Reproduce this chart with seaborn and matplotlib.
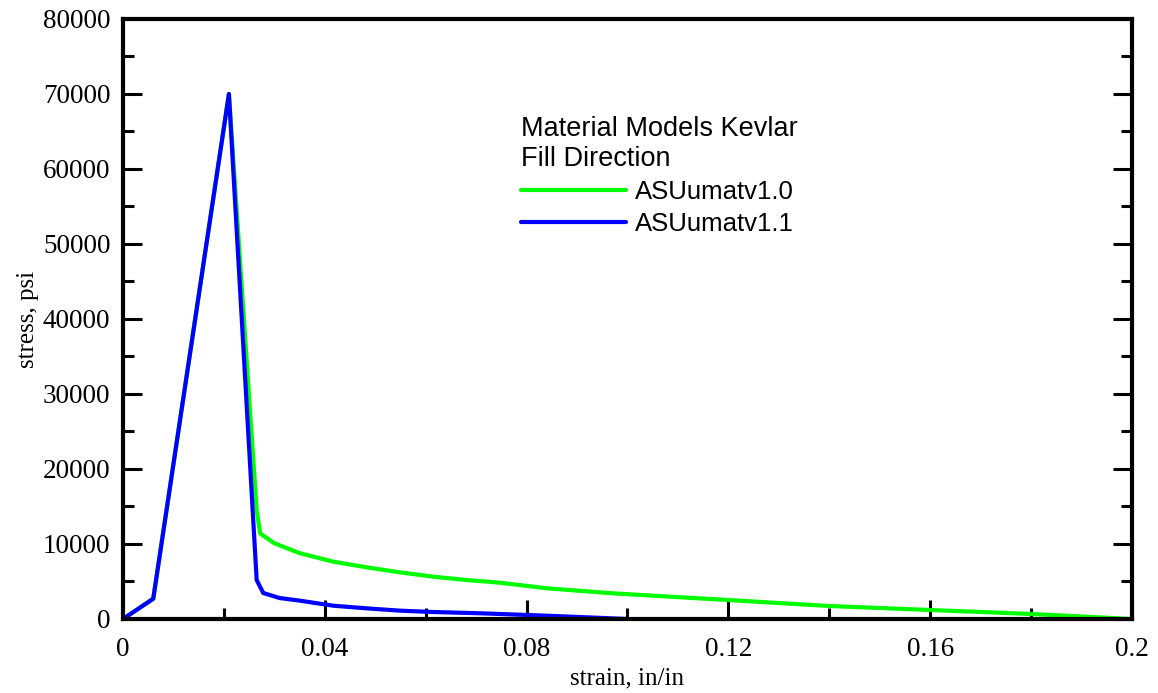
import pandas as pd
import seaborn as sns
import matplotlib.pyplot as plt
from matplotlib.ticker import MultipleLocator, FuncFormatter

sns.set_theme(style='white')
plt.rcParams['font.family'] = ['Liberation Serif', 'DejaVu Serif']

# stress-strain data
strain_v10 = [0, 0.006, 0.021, 0.0265, 0.0272, 0.030, 0.0351, 0.0417, 0.0483, 0.0549,
              0.0615, 0.0681, 0.0747, 0.084, 0.0972, 0.1104, 0.12, 0.14, 0.16, 0.18, 0.2]
stress_v10 = [0, 2700, 70000, 14500, 11400, 10100, 8760, 7640, 6890, 6220,
              5640, 5200, 4840, 4090, 3420, 2900, 2530, 1730, 1200, 670, 0]
strain_v11 = [0, 0.006, 0.021, 0.0265, 0.0278, 0.031, 0.0351, 0.0417, 0.0483, 0.0549,
              0.0615, 0.0708, 0.084, 0.100]
stress_v11 = [0, 2700, 70000, 5200, 3470, 2800, 2440, 1770, 1420, 1110,
              930, 760, 440, 0]

models = ['ASUumatv1.0', 'ASUumatv1.1']
colors = {'ASUumatv1.0': '#00ff00', 'ASUumatv1.1': '#0000ff'}

df = pd.concat([
    pd.DataFrame({'strain': strain_v10, 'stress': stress_v10, 'model': models[0]}),
    pd.DataFrame({'strain': strain_v11, 'stress': stress_v11, 'model': models[1]}),
], ignore_index=True)

fig = plt.figure(figsize=(11.58, 6.93), dpi=100)
ax = fig.add_axes([0.1062, 0.1068, 0.8713, 0.8658])
sns.lineplot(data=df, x='strain', y='stress', hue='model', hue_order=models,
             palette=colors, sort=False, estimator=None, linewidth=3, ax=ax)

ax.set_xlim(0, 0.2)
ax.set_ylim(0, 80000)
ax.xaxis.set_major_locator(MultipleLocator(0.04))
ax.xaxis.set_minor_locator(MultipleLocator(0.02))
ax.yaxis.set_major_locator(MultipleLocator(10000))
ax.yaxis.set_minor_locator(MultipleLocator(5000))
ax.xaxis.set_major_formatter(FuncFormatter(lambda v, p: '%g' % round(v, 4)))
ax.yaxis.set_major_formatter(FuncFormatter(lambda v, p: '%d' % v))
ax.tick_params(which='both', direction='in', left=True, right=True, bottom=True,
               top=False, labelsize=19.5, width=2.2, color='black', labelcolor='black')
ax.tick_params(axis='x', which='major', length=14, pad=13)
ax.tick_params(axis='y', which='major', length=14, pad=9)
ax.tick_params(which='minor', length=8)
for sp in ax.spines.values():
    sp.set_visible(True)
    sp.set_color('black')
    sp.set_linewidth(3)

ax.set_xlabel('strain, in/in', fontsize=18, color='black', labelpad=4)
ax.set_ylabel('stress, psi', fontsize=18, color='black', labelpad=3)

handles, labels = ax.get_legend_handles_labels()
leg = ax.legend(handles, labels, title='Material Models Kevlar\nFill Direction',
                loc='upper left', bbox_to_anchor=(0.384, 0.855), frameon=False,
                alignment='left', handlelength=4.1, handletextpad=0.35,
                labelspacing=0.3, borderaxespad=0,
                prop={'family': 'Liberation Sans', 'size': 18.5},
                title_fontproperties={'family': 'Liberation Sans', 'size': 19.5})
leg.get_title().set_color('black')
for t in leg.get_texts():
    t.set_color('black')
for line in leg.get_lines():
    line.set_linewidth(3)

fig.savefig('out.png', dpi=100)
